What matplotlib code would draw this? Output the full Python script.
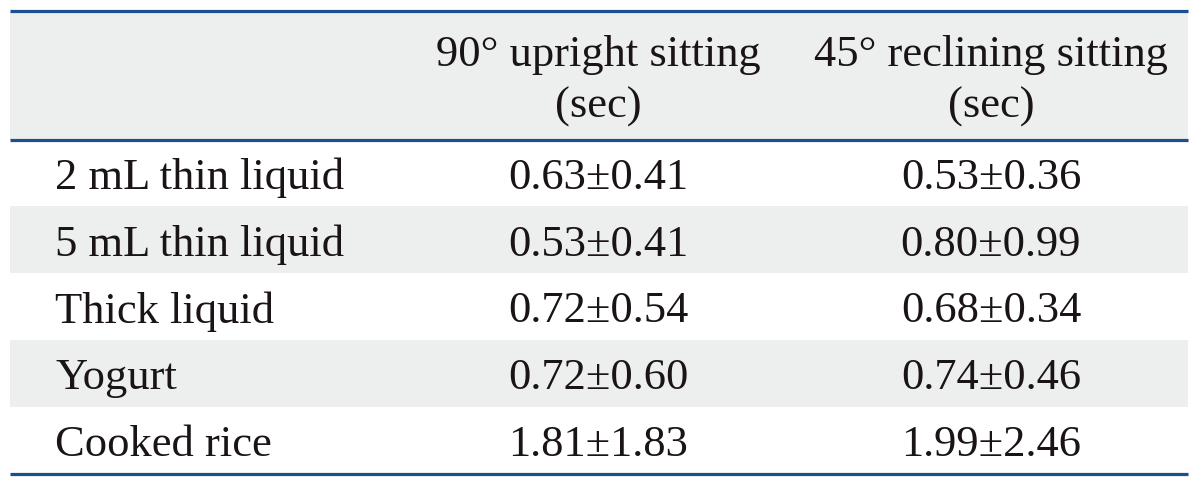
import matplotlib.pyplot as plt
from matplotlib.patches import Rectangle

# table content
row_labels = ['2 mL thin liquid', '5 mL thin liquid', 'Thick liquid', 'Yogurt', 'Cooked rice']
col_headers = ['90\u00b0 upright sitting\n(sec)', '45\u00b0 reclining sitting\n(sec)']
upright = ['0.63\u00b10.41', '0.53\u00b10.41', '0.72\u00b10.54', '0.72\u00b10.60', '1.81\u00b11.83']
reclining = ['0.53\u00b10.36', '0.80\u00b10.99', '0.68\u00b10.34', '0.74\u00b10.46', '1.99\u00b12.46']

W, H = 1200, 484
fig = plt.figure(figsize=(W / 100, H / 100), dpi=100)
ax = fig.add_axes([0, 0, 1, 1])
ax.set_xlim(0, W)
ax.set_ylim(H, 0)
ax.axis('off')

line_col = '#1d4f8f'
shade = '#edefef'
font = dict(family='Liberation Serif', fontsize=32, color='#1a1414')

left, right = 10, 1188
top, head_bot, bottom = 11, 139.5, 473.5
row_h = (bottom - head_bot) / len(row_labels)
col_x = [598, 991]

# header background
ax.add_patch(Rectangle((left, top), right - left, head_bot - top, color=shade, lw=0))
for i, hdr in enumerate(col_headers):
    ax.text(col_x[i], (top + head_bot) / 2 + 6, hdr, ha='center', va='center',
            linespacing=1.38, **font)

for r, lab in enumerate(row_labels):
    y0 = head_bot + r * row_h
    if r % 2 == 1:
        ax.add_patch(Rectangle((left, y0), right - left, row_h, color=shade, lw=0))
    yb = y0 + row_h / 2 + 16
    ax.text(55, yb, lab, ha='left', va='baseline', **font)
    ax.text(col_x[0], yb, upright[r], ha='center', va='baseline', **font)
    ax.text(col_x[1], yb, reclining[r], ha='center', va='baseline', **font)

for y in (top, head_bot, bottom):
    ax.plot([left, right], [y, y], color=line_col, lw=2.3, solid_capstyle='butt')

plt.savefig('out.png', dpi=100)
